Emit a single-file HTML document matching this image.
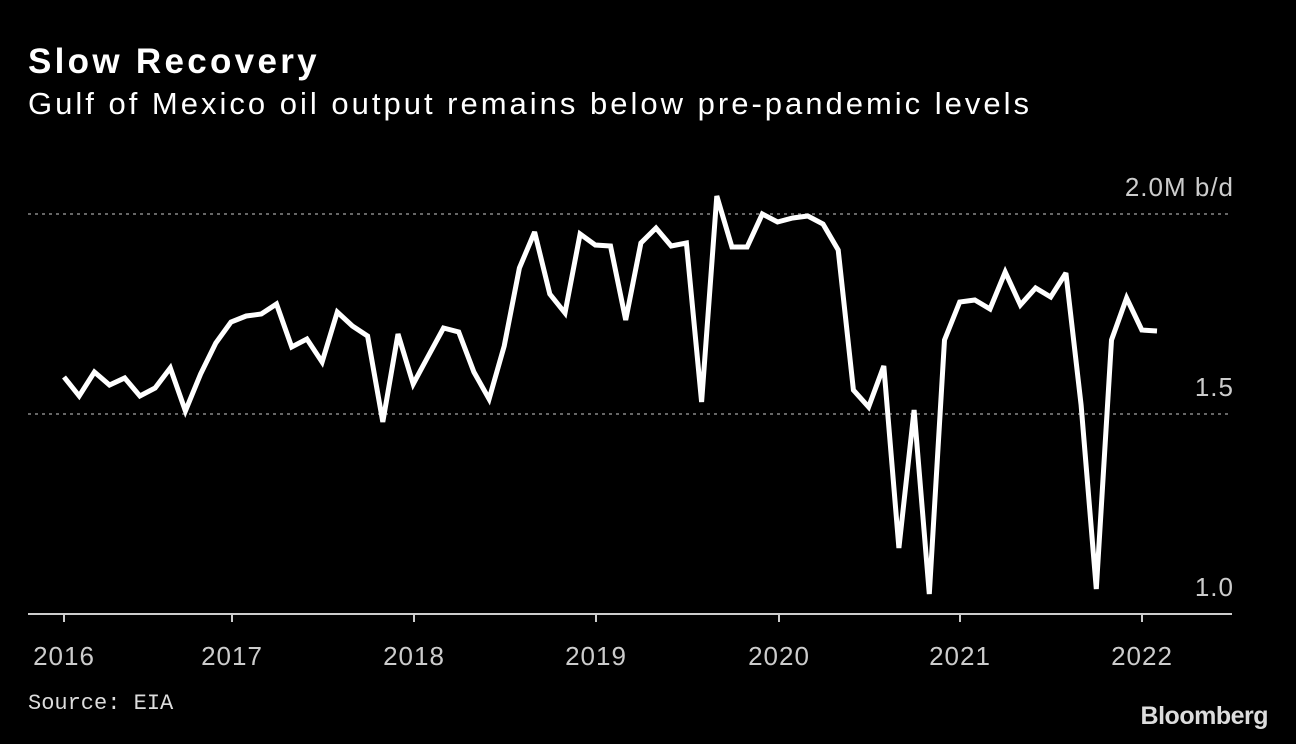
<!DOCTYPE html>
<html><head><meta charset="utf-8">
<style>
html,body{margin:0;padding:0;background:#000;}
body{width:1296px;height:744px;overflow:hidden;position:relative;font-family:"Liberation Sans",sans-serif;color:#fff;}
.t{position:absolute;white-space:nowrap;}
</style></head>
<body>
<div class="t" style="left:28px;top:42px;font-size:35px;font-weight:bold;letter-spacing:3.3px;">Slow Recovery</div>
<div class="t" style="left:28px;top:86px;font-size:31px;letter-spacing:3.0px;">Gulf of Mexico oil output remains below pre-pandemic levels</div>
<svg id="chart" width="1296" height="744" style="position:absolute;left:0;top:0;"></svg>
<div class="t" style="left:28px;top:691px;font-size:22px;font-family:'Liberation Mono',monospace;color:#ddd;">Source: EIA</div>
<div class="t" style="right:28px;top:702px;font-size:25px;font-weight:bold;letter-spacing:-0.5px;color:#ddd;">Bloomberg</div>
<script>
const values=[1.5925,1.545,1.605,1.5725,1.59,1.545,1.565,1.615,1.5075,1.6,1.6775,1.73,1.745,1.75,1.775,1.6675,1.6875,1.63,1.755,1.72,1.695,1.48,1.7,1.575,1.645,1.715,1.705,1.605,1.5375,1.67,1.865,1.955,1.8,1.7525,1.95,1.9225,1.92,1.735,1.9275,1.965,1.92,1.9275,1.53,2.045,1.9175,1.9175,2.0,1.98,1.99,1.995,1.975,1.91,1.56,1.5175,1.62,1.165,1.51,1.05,1.685,1.78,1.785,1.7625,1.855,1.7725,1.815,1.7925,1.8525,1.5225,1.0625,1.685,1.79,1.71,1.7075];
const yTicks=[2.0,1.5,1.0];
const yTickLabels=["2.0M b/d","1.5","1.0"];
const years=["2016","2017","2018","2019","2020","2021","2022"];
const svg=document.getElementById('chart');
const NS='http://www.w3.org/2000/svg';
const x0=64,x1=1157,plotL=28,plotR=1232;
const y=v=>214+(2.0-v)*400;
const x=i=>x0+i*(x1-x0)/(values.length-1);
const yearX=[64,232,414,596,779,960,1142];
function mk(tag,attrs){const e=document.createElementNS(NS,tag);for(const k in attrs)e.setAttribute(k,attrs[k]);svg.appendChild(e);return e;}
yTicks.forEach((v,i)=>{
  if(v>1.0){
    const g=mk('line',{x1:plotL,x2:plotR,y1:y(v),y2:y(v),stroke:'#888','stroke-width':1.5,'stroke-dasharray':'3,4'});
    
    
  }
  const t=mk('text',{x:1234,y:y(v)-18,'text-anchor':'end','font-size':26,fill:'#ccc','font-family':'Liberation Sans, sans-serif','letter-spacing':1});
  t.textContent=yTickLabels[i];
  
  
});
const base=mk('line',{x1:plotL,x2:plotR,y1:614,y2:614,stroke:'#ccc','stroke-width':2});


years.forEach((yr,i)=>{
  const tk=mk('line',{x1:yearX[i],x2:yearX[i],y1:614,y2:622,stroke:'#ccc','stroke-width':2});
  
  
  const t=mk('text',{x:yearX[i],y:665,'text-anchor':'middle','font-size':26,fill:'#ccc','font-family':'Liberation Sans, sans-serif','letter-spacing':1});
  t.textContent=yr;
  
  
});
const pts=values.map((v,i)=>x(i).toFixed(1)+','+y(v).toFixed(1)).join(' ');
const line=mk('polyline',{points:pts,fill:'none',stroke:'#fff','stroke-width':5,'stroke-linejoin':'miter','stroke-miterlimit':3});


</script>
</body></html>
